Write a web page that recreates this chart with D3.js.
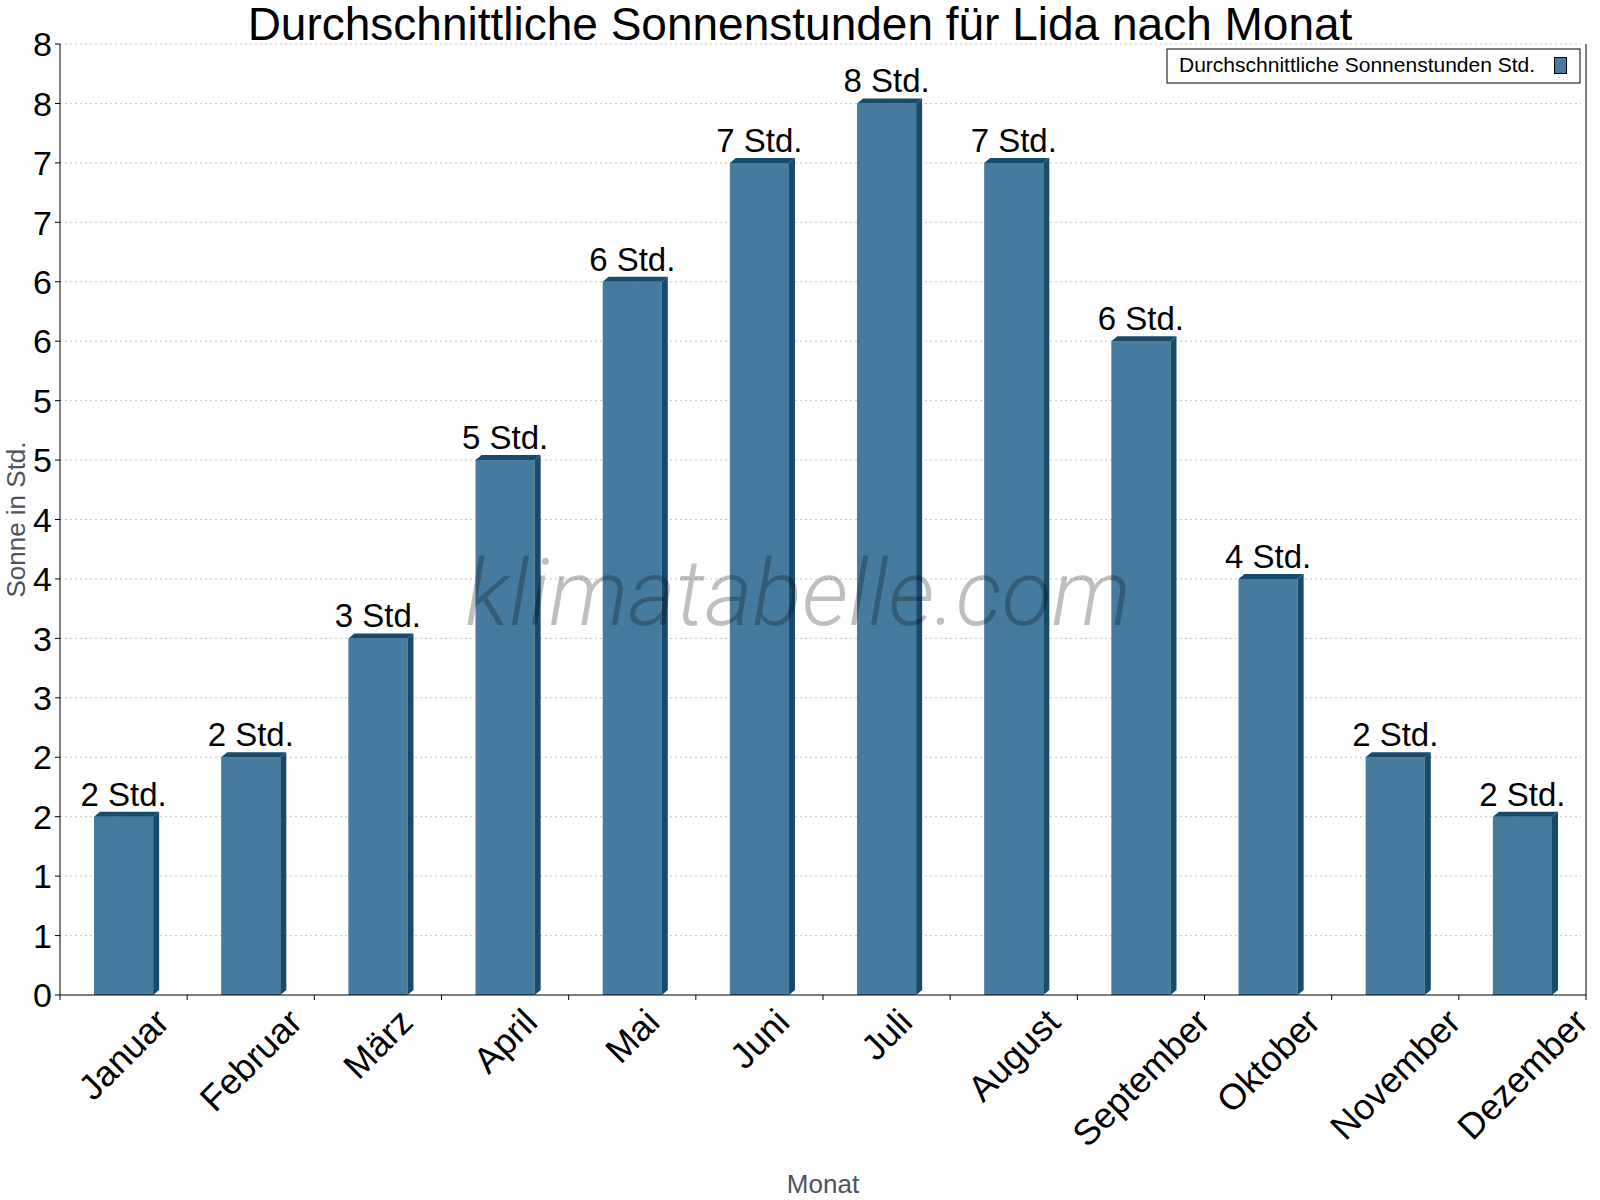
<!DOCTYPE html>
<html>
<head>
<meta charset="utf-8">
<script src="https://cdn.jsdelivr.net/npm/d3@7"></script>
<style>
  body { margin: 0; background: #fff; }
  text { font-family: "Liberation Sans", Arial, sans-serif; }
</style>
</head>
<body>
<svg id="chart" width="1600" height="1200"></svg>
<script>
// data
const months = ["Januar", "Februar", "März", "April", "Mai", "Juni",
                "Juli", "August", "September", "Oktober", "November", "Dezember"];
const sunHours = [1.5, 2, 3, 4.5, 6, 7, 7.5, 7, 5.5, 3.5, 2, 1.5];
const valueLabels = ["2 Std.", "2 Std.", "3 Std.", "5 Std.", "6 Std.", "7 Std.",
                     "8 Std.", "7 Std.", "6 Std.", "4 Std.", "2 Std.", "2 Std."];
const yTickValues = [0, 0.5, 1, 1.5, 2, 2.5, 3, 3.5, 4, 4.5, 5, 5.5, 6, 6.5, 7, 7.5, 8];
const yTickLabels = ["0", "1", "1", "2", "2", "3", "3", "4", "4", "5", "5", "6", "6", "7", "7", "8", "8"];

const chartTitle = "Durchschnittliche Sonnenstunden für Lida nach Monat";
const legendLabel = "Durchschnittliche Sonnenstunden Std.";

// plot area (avoid "top", it's window.top)
var pLeft = 60, pRight = 1586, pTop = 44, pBottom = 995;

var front = "#467b9d", dark = "#184a6c";
var depthX = 6, depthY = 5;

var svg = d3.select("#chart");

var x = d3.scaleBand().domain(months).range([pLeft, pRight]).padding(0);
var y = d3.scaleLinear().domain([0, 8]).range([pBottom, pTop]);
var barW = x.bandwidth() * 0.465;

// grid
svg.append("g")
  .selectAll("line")
  .data(yTickValues.filter(d => d > 0))
  .enter()
  .append("line")
  .attr("x1", pLeft)
  .attr("x2", pRight - 5)
  .attr("y1", d => y(d))
  .attr("y2", d => y(d))
  .attr("stroke", "#c4c4c4")
  .attr("stroke-width", 1)
  .attr("stroke-dasharray", "2,3");

// bars
var bars = svg.append("g")
  .selectAll(".bar")
  .data(sunHours)
  .enter()
  .append("g")
  .attr("class", "bar");

function x0(d, i) { return x(months[i]) + (x.bandwidth() - barW) / 2; }

bars.append("rect")
  .attr("x", (d, i) => x0(d, i))
  .attr("y", d => y(d))
  .attr("width", barW)
  .attr("height", d => y(0) - y(d))
  .attr("fill", front);

// side face
bars.append("path")
  .attr("d", function(d, i) {
    var a = x0(d, i) + barW, t = y(d), b = y(0);
    return "M" + a + "," + t + "L" + (a + depthX) + "," + (t - depthY) +
           "L" + (a + depthX) + "," + (b - depthY) + "L" + a + "," + b + "Z";
  })
  .attr("fill", dark);

// top face
bars.append("path")
  .attr("d", function(d, i) {
    var a = x0(d, i), t = y(d);
    return "M" + a + "," + t + "L" + (a + depthX) + "," + (t - depthY) +
           "L" + (a + barW + depthX) + "," + (t - depthY) + "L" + (a + barW) + "," + t + "Z";
  })
  .attr("fill", dark);

// value labels
bars.append("text")
  .attr("x", (d, i) => x(months[i]) + x.bandwidth() / 2)
  .attr("y", d => y(d) - depthY - 6)
  .attr("text-anchor", "middle")
  .style("font-size", "33px")
  .attr("fill", "#000")
  .text((d, i) => valueLabels[i]);

// watermark (semi transparent, over the bars)
svg.append("text")
  .attr("x", 798)
  .attr("y", 625)
  .attr("text-anchor", "middle")
  .style("font-family", "Roboto, 'Open Sans', sans-serif")
  .style("font-weight", 300)
  .style("font-style", "italic")
  .style("font-size", "92px")
  .attr("fill", "rgba(0,0,0,0.25)")
  .text("klimatabelle.com");

// y axis
var yAxis = svg.append("g");
yAxis.append("line")
  .attr("x1", pLeft).attr("x2", pLeft)
  .attr("y1", pTop).attr("y2", pBottom)
  .attr("stroke", "#000");
yAxis.selectAll(".ytick")
  .data(yTickValues)
  .enter()
  .append("line")
  .attr("x1", pLeft - 5).attr("x2", pLeft)
  .attr("y1", d => y(d)).attr("y2", d => y(d))
  .attr("stroke", "#000");
yAxis.selectAll(".ylab")
  .data(yTickValues)
  .enter()
  .append("text")
  .attr("x", pLeft - 8)
  .attr("y", d => y(d))
  .attr("dy", "0.36em")
  .attr("text-anchor", "end")
  .style("font-size", "34px")
  .attr("fill", "#000")
  .text((d, i) => yTickLabels[i]);

// right border
svg.append("line")
  .attr("x1", pRight).attr("x2", pRight)
  .attr("y1", pTop).attr("y2", pBottom)
  .attr("stroke", "#000");

// x axis
var xAxis = svg.append("g");
xAxis.append("line")
  .attr("x1", pLeft).attr("x2", pRight)
  .attr("y1", pBottom).attr("y2", pBottom)
  .attr("stroke", "#000");
xAxis.selectAll(".xtick")
  .data(months.concat(["end"]))
  .enter()
  .append("line")
  .attr("x1", d => d === "end" ? pRight : x(d))
  .attr("x2", d => d === "end" ? pRight : x(d))
  .attr("y1", pBottom).attr("y2", pBottom + 5)
  .attr("stroke", "#000");

var xl = xAxis.selectAll(".xlab")
  .data(months)
  .enter()
  .append("g");
var inner = xl.append("g");
inner.append("text")
  .attr("text-anchor", "end")
  .attr("transform", "rotate(-45)")
  .style("font-size", "36px")
  .attr("fill", "#000")
  .text(d => d);
xl.each(function(d) {
  var bb = d3.select(this).select("g").node().getBBox();
  var cx = x(d) + x.bandwidth() / 2;
  d3.select(this).attr("transform",
    "translate(" + (cx - (bb.x + bb.width / 2)) + "," + (pBottom + 6 - bb.y) + ")");
});

// axis titles
svg.append("text")
  .attr("x", (pLeft + pRight) / 2)
  .attr("y", 1193)
  .attr("text-anchor", "middle")
  .style("font-size", "26px")
  .attr("fill", "#4d545c")
  .text("Monat");

svg.append("text")
  .attr("transform", "translate(25," + ((pTop + pBottom) / 2) + ") rotate(-90)")
  .attr("text-anchor", "middle")
  .style("font-size", "26px")
  .attr("fill", "#4d545c")
  .text("Sonne in Std.");

// title
svg.append("text")
  .attr("x", 800)
  .attr("y", 40)
  .attr("text-anchor", "middle")
  .style("font-size", "46px")
  .attr("fill", "#000")
  .text(chartTitle);

// legend
var legend = svg.append("g");
legend.append("rect")
  .attr("x", 1167).attr("y", 49)
  .attr("width", 413).attr("height", 34)
  .attr("fill", "#fff")
  .attr("stroke", "#000");
legend.append("text")
  .attr("x", 1179).attr("y", 72)
  .style("font-size", "21px")
  .attr("fill", "#000")
  .text(legendLabel);
legend.append("rect")
  .attr("x", 1554.5).attr("y", 57.5)
  .attr("width", 12).attr("height", 16)
  .attr("fill", front)
  .attr("stroke", "#000");
</script>
</body>
</html>
